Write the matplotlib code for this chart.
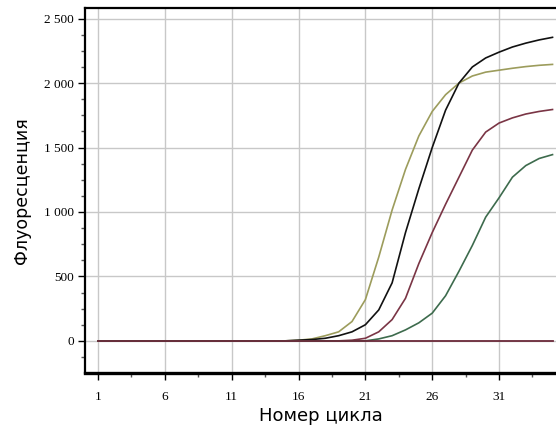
import matplotlib
matplotlib.use("Agg")
import matplotlib.pyplot as plt
from matplotlib.ticker import MultipleLocator, FuncFormatter

cycles = list(range(1, 36))

# values, cycles 16..35 (zero before)
olive = [5, 15, 40, 70, 150, 320, 650, 1015, 1330, 1590, 1780, 1910, 2000,
         2055, 2085, 2100, 2115, 2128, 2138, 2145]
black = [5, 10, 20, 40, 70, 125, 240, 450, 840, 1180, 1500, 1790, 2000,
         2125, 2195, 2240, 2280, 2310, 2335, 2355]
maroon = [0, 0, 0, 0, 5, 20, 70, 165, 330, 600, 840, 1060, 1270,
          1480, 1620, 1690, 1730, 1760, 1780, 1795]
green = [0, 0, 0, 0, 0, 0, 15, 40, 85, 140, 215, 350, 540,
         740, 960, 1110, 1270, 1360, 1415, 1445]
baseline = [0] * 35

pad = [0] * 15
series = [
    (pad + olive, "#9c9c5c"),
    (pad + black, "#111111"),
    (pad + maroon, "#7a3545"),
    (pad + green, "#3d6b4d"),
]

fig = plt.figure(figsize=(5.56, 4.32), dpi=100)
ax = fig.add_axes([0.153, 0.137, 0.847, 0.844])

for vals, col in series:
    ax.plot(cycles, vals, color=col, lw=1.2)
ax.plot(cycles, baseline, color="#6b2a3a", lw=1.3)

ax.set_xlim(0.03, 35.26)
ax.set_ylim(-248, 2581)

ax.xaxis.set_major_locator(MultipleLocator(5, offset=1))
ax.xaxis.set_minor_locator(MultipleLocator(2.5, offset=1))
ax.yaxis.set_major_locator(MultipleLocator(500))
ax.yaxis.set_minor_locator(MultipleLocator(125))
ax.yaxis.set_major_formatter(
    FuncFormatter(lambda v, p: f"{int(v):,}".replace(",", " ")))

ax.grid(True, which="major", color="#c8c8c8", lw=1.0)
ax.set_axisbelow(True)

for lbl in ax.get_xticklabels() + ax.get_yticklabels():
    lbl.set_family("Liberation Serif")
    lbl.set_fontsize(9.5)
ax.tick_params(axis="x", which="major", length=5, width=1, pad=8)
ax.tick_params(axis="y", which="major", length=5, width=1, pad=3)
ax.tick_params(which="minor", length=3, width=1, color="#555555")

ax.spines["right"].set_visible(False)
ax.spines["left"].set_linewidth(1.6)
ax.spines["top"].set_linewidth(1.6)
ax.spines["bottom"].set_linewidth(2.4)

ax.set_xlabel("Номер цикла", fontsize=13, labelpad=3)
ax.set_ylabel("Флуоресценция", fontsize=12.5, labelpad=9)

fig.savefig("out.png", dpi=100)
